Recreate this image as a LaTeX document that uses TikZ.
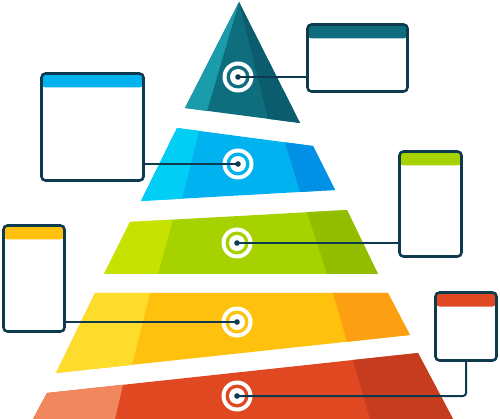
\documentclass[tikz,border=0pt]{standalone}
\usepackage{tikz}
\usetikzlibrary{calc}

\definecolor{navy}{HTML}{0E3A50}
\definecolor{tealA}{HTML}{1B9CAB}
\definecolor{tealB}{HTML}{0F6E7E}
\definecolor{tealC}{HTML}{0B5C6C}
\definecolor{blueA}{HTML}{00CEF5}
\definecolor{blueB}{HTML}{00B3F0}
\definecolor{blueC}{HTML}{0090E6}
\definecolor{greenA}{HTML}{C6E200}
\definecolor{greenB}{HTML}{A6D200}
\definecolor{greenC}{HTML}{93BE00}
\definecolor{yellowA}{HTML}{FDDC2C}
\definecolor{yellowB}{HTML}{FEC20E}
\definecolor{yellowC}{HTML}{FD9F12}
\definecolor{redA}{HTML}{F0875E}
\definecolor{redB}{HTML}{E04822}
\definecolor{redC}{HTML}{C63C1E}

\begin{document}
\begin{tikzpicture}[x=1pt, y=-1pt,
    wire/.style={navy, line width=2pt},
    card/.style={draw=navy, fill=white, line width=2.6pt, rounded corners=4pt,
      inner sep=0pt, minimum width=#1},
    head/.style={path picture={\fill [#1] (path picture bounding box.north west)
      rectangle ([yshift=-14pt]path picture bounding box.north east);}}]
          \useasboundingbox (0, 0) rectangle (500, 419);

          % Top
          \fill [tealB] (239, 2) -- (300, 123) -- (185, 108) -- cycle;
          \fill [tealA] (239, 2) -- (207, 110.9) -- (185, 108) -- cycle;
          \fill [tealC] (239, 2) -- (300, 123) -- (268, 118.8) -- cycle;

          % Band 2
          \fill [blueB] (177, 128) -- (313, 146) -- (335, 190) -- (141, 201) -- cycle;
          \fill [blueA] (177, 128) -- (199, 130.9) -- (182, 198.7) -- (141, 201) -- cycle;
          \fill [blueC] (285, 142.3) -- (313, 146) -- (335, 190) -- (300, 192) -- cycle;

          % Band 3
          \fill [greenB] (130, 222) -- (347, 210) -- (378, 274) -- (104, 274) -- cycle;
          \fill [greenA] (130, 222) -- (173, 219.6) -- (158, 274) -- (104, 274) -- cycle;
          \fill [greenC] (307, 212.2) -- (347, 210) -- (378, 274) -- (327, 274) -- cycle;

          % Band 4
          \fill [yellowB] (95, 293) -- (388, 293) -- (410, 335) -- (56, 373) -- cycle;
          \fill [yellowA] (95, 293) -- (150, 293) -- (132, 364.8) -- (56, 373) -- cycle;
          \fill [yellowC] (333, 293) -- (388, 293) -- (410, 335) -- (347, 341.8) -- cycle;

          % Band 5
          \fill [redB] (47, 393) -- (418, 353) -- (453, 419) -- (33, 419) -- cycle;
          \fill [redA] (47, 393) -- (123, 384.8) -- (115, 419) -- (33, 419) -- cycle;
          \fill [redC] (353, 360) -- (418, 353) -- (453, 419) -- (370, 419) -- cycle;

          % Cards
          \node [card=100pt, minimum height=67pt, head=tealB] (c1) at (357.5, 58) {};
          \node [card=102pt, minimum height=107pt, head=blueB] (c2) at (92.5, 127) {};
          \node [card=62pt, minimum height=105pt, head=greenB] (c3) at (430.5, 204) {};
          \node [card=61pt, minimum height=106pt, head=yellowB] (c4) at (34, 278.5) {};
          \node [card=61pt, minimum height=68pt, head=redB] (c5) at (466, 326.5) {};

          % Targets
          \coordinate (t1) at (238, 77);
          \coordinate (t2) at (238, 164);
          \coordinate (t3) at (237, 243);
          \coordinate (t4) at (237, 322);
          \coordinate (t5) at (237, 396);
          \foreach \t/\c in {t1/tealB, t2/blueB, t3/greenB, t4/yellowB, t5/redB} {
            \fill [white] (\t) circle (15.5);
            \fill [\c] (\t) circle (11.5);
            \fill [white] (\t) circle (8);
          }

          % Wires
          \draw [wire] (t1) -- (t1 -| c1.west);
          \draw [wire] (t2) -- (t2 -| c2.east);
          \draw [wire] (t3) -- (t3 -| c3.west);
          \draw [wire] (t4) -- (t4 -| c4.east);
          \draw [wire, rounded corners=3pt] (t5) -- (t5 -| c5.south) -- (c5.south);
          \foreach \t in {t1, t2, t3, t4, t5}
            \fill [navy] (\t) circle (2.8);
        \end{tikzpicture}
\end{document}
